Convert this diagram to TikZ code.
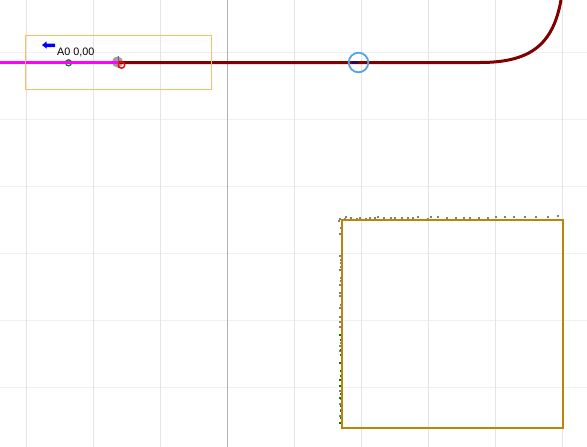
\documentclass[tikz,border=0pt]{standalone}
\usepackage{fontspec}
\setmainfont{Liberation Sans}
\definecolor{gridc}{RGB}{228,228,228}
\definecolor{gridh}{RGB}{240,240,240}
\definecolor{axisc}{RGB}{178,178,178}
\definecolor{boxc}{RGB}{250,190,100}
\definecolor{wine}{RGB}{128,0,0}
\definecolor{mag}{RGB}{255,0,255}
\definecolor{goldb}{RGB}{184,134,11}
\definecolor{ringb}{RGB}{85,165,230}
\definecolor{dotg}{RGB}{128,128,128}
\definecolor{dotv}{RGB}{0,128,0}
\tikzset{
  gridv/.style={gridc,line width=1pt},
  gridhz/.style={gridh,line width=1.4pt},
  graydot/.style={fill=dotg,draw=none},
  greendot/.style={fill=dotv,draw=none},
}
\begin{document}
\begin{tikzpicture}[x=1pt,y=-1pt]
\useasboundingbox[fill=white] (0,0) rectangle (587,447);
% grid
\foreach \y in {52.5,119.5,186.5,253.5,320.5,387.5} \draw[gridhz] (0,\y) -- (587,\y);
\foreach \x in {26.5,93.5,160.5,294.5,361.5,428.5,495.5,562.5} \draw[gridv] (\x,0) -- (\x,447);
\draw[axisc,line width=1pt] (227.5,0) -- (227.5,447);
% green ring under the line
\draw[dotv,line width=1.3pt] (68.5,62.8) circle (3pt);
% curve
\coordinate (start) at (0,62.5);
\coordinate (joint) at (118.5,62.5);
\coordinate (bend) at (480,62.5);
\coordinate (top) at (561,0);
\draw[wine,line width=3pt] (joint) -- (bend) .. controls (530,62.5) and (553,45) .. (top);
% markers
\fill[gray!75] (117.5,62) circle (5.5pt);
\draw[mag,line width=3pt] (start) -- (joint);
\draw[wine,line width=3pt] (118.5,62.5) -- (128,62.5);
\draw[black!60,line width=1pt] (118,56) -- (118,68);
\draw[red,line width=1.4pt] (121.5,65) circle (3.2pt);
% arrow glyph
\fill[blue] (42,45) -- (46.5,41.5) -- (46.5,43.5) -- (55,43.5) -- (55,47) -- (46.5,47) -- (46.5,48.5) -- cycle;
\node[anchor=west,inner sep=0pt,font=\fontsize{10.8pt}{12pt}\selectfont] (lab) at (57,52) {A0 0,00};
% ring
\fill[blue!60!black,opacity=.6] (352,61) rectangle (358,64);
\draw[ringb,line width=1.8pt] (358.5,62.5) circle (9.8pt);
% dots top
\foreach \zx/\zy in {27/47,30/42,44/42,47/36,62/39,81/42,89/39,108/42,120/39,135/39,143/36,162/39,183/39,195/39,215/39,234/39,249/39,264/36,294/42,303/36,324/36,351/39,378/39,402/39,420/39,447/39,474/39,498/36,525/36,552/36,585/36,618/36,654/36,684/33}
  \fill[graydot] ({330+\zx/3-1},{205+\zy/3-1}) rectangle ++(2,2);
% dots left gray
\foreach \zx/\zy in {33/69,30/87,36/100,36/115,36/130,36/145,30/153,33/165,33/175}
  \fill[graydot] ({330+\zx/3-1},{205+\zy/3-1}) rectangle ++(2,2);
\foreach \zx/\zy in {30/47,32/60,32/70,33/80,30/89,36/103,33/114,32/123,30/134,36/150,30/159,30/168,33/195,30/203,30/230,30/245,30/260,32/308,30/318,30/332,36/350,36/388,36/420,30/452,33/478,30/492,33/510,30/527}
  \fill[graydot] ({330+\zx/3-1},{240+\zy/3-1}) rectangle ++(2,2);
% dots left green
\foreach \zx/\zy in {30/285,33/299,36/318,33/330,33/345,36/363,30/370,33/392,33/407,30/420,30/437,33/461,30/474,33/497,33/513,33/534,30/548}
  \fill[greendot] ({330+\zx/3-1},{240+\zy/3-1}) rectangle ++(2,2);
% gold box
\node[draw=goldb,line width=2.2pt,outer sep=0pt,minimum width=221pt,minimum height=208pt,inner sep=0pt,anchor=north west] (goldbox) at (342,220) {};
% label box, drawn last
\node[draw=boxc,line width=1pt,outer sep=0pt,minimum width=186pt,minimum height=54pt,inner sep=0pt,anchor=north west] (labelbox) at (25.5,35.5) {};
\end{tikzpicture}
\end{document}
